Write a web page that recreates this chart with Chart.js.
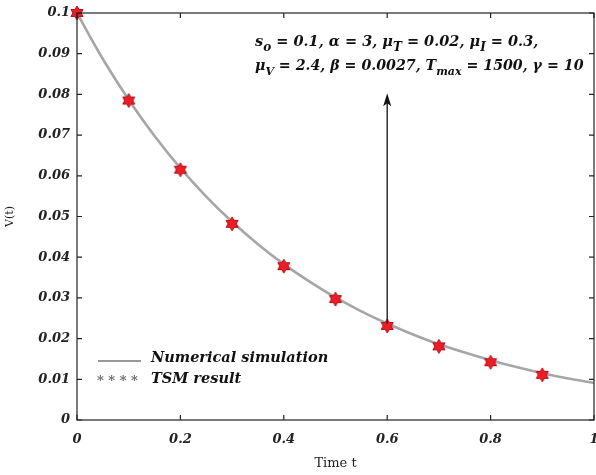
<!DOCTYPE html>
<html>
<head>
<meta charset="utf-8">
<script src="https://cdn.jsdelivr.net/npm/chart.js@4.4.1/dist/chart.umd.min.js"></script>
<style>
  html, body { margin: 0; padding: 0; background: #fff; }
  #wrap { width: 596px; height: 475px; }
</style>
</head>
<body>
<div id="wrap"><canvas id="vChart" width="596" height="475"></canvas></div>
<script>
// numerical solution of V(t)
const simTime = [0, 0.05, 0.1, 0.15, 0.2, 0.25, 0.3, 0.35, 0.4, 0.45, 0.5,
                 0.55, 0.6, 0.65, 0.7, 0.75, 0.8, 0.85, 0.9, 0.95, 1];
const simV = [0.1, 0.0887, 0.0787, 0.0698, 0.0619, 0.0549, 0.0487, 0.0432, 0.0383, 0.034, 0.0301,
              0.0267, 0.0237, 0.021, 0.0186, 0.0166, 0.0147, 0.013, 0.0115, 0.0102, 0.0091];
// TSM points
const tsmTime = [0, 0.1, 0.2, 0.3, 0.4, 0.5, 0.6, 0.7, 0.8, 0.9];
const tsmV = [0.1, 0.0785, 0.0615, 0.0482, 0.0378, 0.0297, 0.0231, 0.0181, 0.0142, 0.0111];

const xTicks = ['0', '0.2', '0.4', '0.6', '0.8', '1'];
const yTicks = ['0', '0.01', '0.02', '0.03', '0.04', '0.05', '0.06', '0.07', '0.08', '0.09', '0.1'];

const legendLabels = ['Numerical simulation', 'TSM result'];
// arrow from the t = 0.6 point up to the parameter note
const arrowFrom = { x: 0.6, y: 0.0237 };
const arrowTo = { x: 0.6, y: 0.0803 };

const FONT = '"DejaVu Serif", "Liberation Serif", serif';

// six-pointed star marker
function hexagram(r) {
  const c = document.createElement('canvas');
  const s = Math.ceil(r * 2 + 4);
  c.width = s; c.height = s;
  const g = c.getContext('2d');
  const cx = s / 2, cy = s / 2, ri = r * 0.58;
  g.beginPath();
  for (let i = 0; i < 12; i++) {
    const a = -Math.PI / 2 + i * Math.PI / 6;
    const rr = i % 2 === 0 ? r : ri;
    const px = cx + rr * Math.cos(a), py = cy + rr * Math.sin(a);
    if (i === 0) g.moveTo(px, py); else g.lineTo(px, py);
  }
  g.closePath();
  g.fillStyle = '#ee1c24';
  g.fill();
  g.lineWidth = 1;
  g.strokeStyle = '#b0121a';
  g.stroke();
  return c;
}
const starImg = hexagram(7);

// draw text runs with subscripts
function drawRuns(ctx, x, y, runs, size) {
  for (const r of runs) {
    if (r.sub) {
      ctx.font = 'italic bold ' + Math.round(size * 0.8) + 'px ' + FONT;
      ctx.fillText(r.t, x, y + size * 0.35);
    } else {
      ctx.font = 'italic bold ' + size + 'px ' + FONT;
      ctx.fillText(r.t, x, y);
    }
    x += ctx.measureText(r.t).width;
  }
}

const frame = {
  id: 'frame',
  afterDraw(chart) {
    const { ctx, chartArea: a, scales: { x, y } } = chart;
    ctx.save();
    ctx.strokeStyle = '#222';
    ctx.lineWidth = 1.2;
    ctx.strokeRect(a.left, a.top, a.right - a.left, a.bottom - a.top);
    const tl = 5;
    ctx.beginPath();
    x.ticks.forEach(t => {
      const px = x.getPixelForValue(t.value);
      ctx.moveTo(px, a.bottom); ctx.lineTo(px, a.bottom - tl);
      ctx.moveTo(px, a.top); ctx.lineTo(px, a.top + tl);
    });
    y.ticks.forEach(t => {
      const py = y.getPixelForValue(t.value);
      ctx.moveTo(a.left, py); ctx.lineTo(a.left + tl, py);
      ctx.moveTo(a.right, py); ctx.lineTo(a.right - tl, py);
    });
    ctx.stroke();

    // arrow
    const ax = x.getPixelForValue(arrowFrom.x);
    const ay0 = y.getPixelForValue(arrowFrom.y);
    const ay1 = y.getPixelForValue(arrowTo.y);
    ctx.strokeStyle = '#111';
    ctx.lineWidth = 1.3;
    ctx.beginPath();
    ctx.moveTo(ax, ay0); ctx.lineTo(ax, ay1 + 8);
    ctx.stroke();
    ctx.fillStyle = '#111';
    ctx.beginPath();
    ctx.moveTo(ax, ay1); ctx.lineTo(ax - 4, ay1 + 13); ctx.lineTo(ax, ay1 + 10); ctx.lineTo(ax + 4, ay1 + 13);
    ctx.closePath();
    ctx.fill();

    // parameter note
    ctx.fillStyle = '#111';
    ctx.textBaseline = 'alphabetic';
    ctx.textAlign = 'left';
    drawRuns(ctx, 255, 46, [
      { t: 's' }, { t: 'o', sub: true }, { t: ' = 0.1, α = 3, μ' }, { t: 'T', sub: true },
      { t: ' = 0.02, μ' }, { t: 'I', sub: true }, { t: ' = 0.3,' }
    ], 14.5);
    drawRuns(ctx, 255, 70, [
      { t: 'μ' }, { t: 'V', sub: true }, { t: ' = 2.4, β = 0.0027, T' }, { t: 'max', sub: true },
      { t: ' = 1500, γ = 10' }
    ], 14.2);

    // legend
    ctx.strokeStyle = '#333';
    ctx.lineWidth = 1;
    ctx.beginPath();
    ctx.moveTo(98, 361); ctx.lineTo(141, 361);
    ctx.stroke();
    ctx.fillStyle = '#666';
    ctx.font = 'bold 13px ' + FONT;
    ctx.fillText('* * * *', 97, 385);
    ctx.fillStyle = '#111';
    ctx.font = 'italic bold 14.5px ' + FONT;
    ctx.fillText(legendLabels[0], 151, 362);
    ctx.fillText(legendLabels[1], 151, 383);
    ctx.restore();
  }
};

new Chart(document.getElementById('vChart').getContext('2d'), {
  type: 'line',
  data: {
    datasets: [{
      label: legendLabels[0],
      data: simTime.map((t, i) => ({ x: t, y: simV[i] })),
      borderColor: '#a6a6a6',
      borderWidth: 2.6,
      pointRadius: 0,
      cubicInterpolationMode: 'monotone',
      fill: false,
      order: 2
    }, {
      label: legendLabels[1],
      data: tsmTime.map((t, i) => ({ x: t, y: tsmV[i] })),
      showLine: false,
      pointStyle: starImg,
      pointRadius: 7,
      clip: false,
      order: 1
    }]
  },
  options: {
    responsive: false,
    animation: false,
    layout: { autoPadding: false, padding: { top: 13, right: 2, left: 0, bottom: 0 } },
    plugins: {
      legend: { display: false },
      tooltip: { enabled: false }
    },
    scales: {
      x: {
        type: 'linear',
        min: 0, max: 1,
        afterFit: s => { s.height = 55; s.paddingLeft = 0; s.paddingRight = 0; },
        afterBuildTicks: s => { s.ticks = xTicks.map(v => ({ value: +v })); },
        grid: { display: false, drawTicks: false },
        border: { display: false },
        ticks: {
          padding: 12,
          color: '#222',
          font: { family: FONT, size: 13, style: 'italic', weight: 'bold' },
          maxRotation: 0,
          callback: (v, i) => xTicks[i]
        },
        title: {
          display: true, text: 'Time t', color: '#222', padding: { top: 4 },
          font: { family: FONT, size: 13 }
        }
      },
      y: {
        type: 'linear',
        min: 0, max: 0.1,
        afterFit: s => { s.width = 77; s.paddingTop = 0; s.paddingBottom = 0; },
        afterBuildTicks: s => { s.ticks = yTicks.map(v => ({ value: +v })); },
        grid: { display: false, drawTicks: false },
        border: { display: false },
        ticks: {
          padding: 7,
          color: '#222',
          font: { family: FONT, size: 13, style: 'italic', weight: 'bold' },
          callback: (v, i) => yTicks[i]
        },
        title: {
          display: true, text: 'V(t)', color: '#222', padding: { bottom: 0 },
          font: { family: FONT, size: 11 }
        }
      }
    }
  },
  plugins: [frame]
});
</script>
</body>
</html>
